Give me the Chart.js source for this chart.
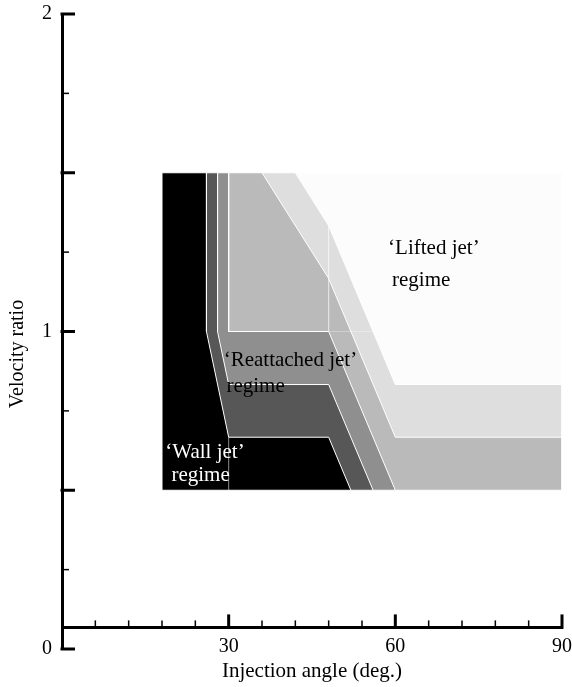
<!DOCTYPE html>
<html>
<head>
<meta charset="utf-8">
<script src="https://cdn.jsdelivr.net/npm/chart.js@4.4.1/dist/chart.umd.min.js"></script>
<style>
  html, body { margin: 0; padding: 0; background: #fff; }
  canvas { display: block; }
</style>
</head>
<body>
<canvas id="regimeChart" width="572" height="687"></canvas>
<script>
// regime boundaries, [injection angle, velocity ratio]
const liftedJet    = [[18, 0.5], [18, 1.5], [90, 1.5], [90, 0.5]];
const band1        = [[18, 0.5], [18, 1.5], [42, 1.5], [48, 1.333], [60, 0.833], [90, 0.833], [90, 0.5]];
const band2        = [[18, 0.5], [18, 1.5], [36, 1.5], [48, 1.167], [60, 0.667], [90, 0.667], [90, 0.5]];
const reattached1  = [[18, 0.5], [18, 1.5], [30, 1.5], [30, 1.0], [48, 1.0], [60, 0.5]];
const reattached2  = [[18, 0.5], [18, 1.5], [28, 1.5], [28, 1.0], [30, 0.833], [48, 0.833], [56, 0.5]];
const wallJet      = [[18, 0.5], [18, 1.5], [26, 1.5], [26, 1.0], [30, 0.667], [48, 0.667], [52, 0.5]];

// faint mesh lines seen inside the bands
const meshLine1 = [[48, 1.333], [48, 1.0], [56, 1.0]];
const meshLine2 = [[30, 0.667], [30, 0.5]];

const xTickLabels = [30, 60, 90];
const yTickLabels = [0, 1, 2];
const xMajorTicks = [30, 60, 90];
const xMinorTicks = [6, 12, 18, 24, 36, 42, 48, 54, 66, 72, 78, 84];
const yMajorTicks = [0, 0.5, 1, 1.5, 2];
const yMinorTicks = [0.25, 0.75, 1.25, 1.75];

const regionLabels = [
  { text: '\u2018Lifted jet\u2019', x: 58.7, y: 1.263, color: '#000' },
  { text: 'regime', x: 59.4, y: 1.162, color: '#000' },
  { text: '\u2018Reattached jet\u2019', x: 29.1, y: 0.910, color: '#000' },
  { text: 'regime', x: 29.6, y: 0.828, color: '#000' },
  { text: '\u2018Wall jet\u2019', x: 18.6, y: 0.620, color: '#fff' },
  { text: 'regime', x: 19.7, y: 0.548, color: '#fff' }
];

const serif = "'Liberation Serif', 'Times New Roman', serif";
Chart.defaults.font.family = serif;
Chart.defaults.font.size = 20;
Chart.defaults.color = '#000';

function pts(arr, close) {
  const p = arr.map(a => ({ x: a[0], y: a[1] }));
  if (close) p.push({ x: arr[0][0], y: arr[0][1] });
  return p;
}

function region(data, color, order) {
  return {
    data: pts(data, true),
    showLine: true,
    fill: 'shape',
    backgroundColor: color,
    borderColor: '#ffffff',
    borderWidth: 1,
    pointRadius: 0,
    tension: 0,
    order: order
  };
}

function mesh(data, color) {
  return {
    data: pts(data, false),
    showLine: true,
    fill: false,
    borderColor: color,
    borderWidth: 1,
    pointRadius: 0,
    order: -1
  };
}

const extras = {
  id: 'extras',
  afterDraw(chart) {
    const ctx = chart.ctx;
    const xs = chart.scales.x, ys = chart.scales.y;
    const ax = ys.right;
    const ay = ys.getPixelForValue(0.068);
    ctx.save();
    ctx.strokeStyle = '#000';
    ctx.lineCap = 'butt';
    // y ticks point inward
    yMajorTicks.forEach(v => {
      const py = ys.getPixelForValue(v);
      ctx.lineWidth = 3;
      ctx.beginPath(); ctx.moveTo(ax - 1.5, py); ctx.lineTo(ax + 13, py); ctx.stroke();
    });
    yMinorTicks.forEach(v => {
      const py = ys.getPixelForValue(v);
      ctx.lineWidth = 1.5;
      ctx.beginPath(); ctx.moveTo(ax, py); ctx.lineTo(ax + 7, py); ctx.stroke();
    });
    // x ticks point up
    xMajorTicks.forEach(v => {
      const px = xs.getPixelForValue(v);
      ctx.lineWidth = 3;
      ctx.beginPath(); ctx.moveTo(px, ay + 1.5); ctx.lineTo(px, ay - 13); ctx.stroke();
    });
    xMinorTicks.forEach(v => {
      const px = xs.getPixelForValue(v);
      ctx.lineWidth = 1.5;
      ctx.beginPath(); ctx.moveTo(px, ay); ctx.lineTo(px, ay - 7); ctx.stroke();
    });

    // axis titles
    ctx.fillStyle = '#000';
    ctx.textAlign = 'center';
    ctx.textBaseline = 'middle';
    ctx.font = '21px ' + serif;
    ctx.fillText('Injection angle (deg.)', (xs.left + xs.right) / 2, 671);
    ctx.font = '20px ' + serif;
    ctx.save();
    ctx.translate(18, 354);
    ctx.rotate(-Math.PI / 2);
    ctx.fillText('Velocity ratio', 0, 0);
    ctx.restore();

    // regime labels
    ctx.textAlign = 'left';
    ctx.font = '21px ' + serif;
    regionLabels.forEach(l => {
      ctx.fillStyle = l.color;
      ctx.fillText(l.text, xs.getPixelForValue(l.x), ys.getPixelForValue(l.y));
    });
    ctx.restore();
  }
};

new Chart(document.getElementById('regimeChart'), {
  type: 'scatter',
  data: {
    datasets: [
      region(liftedJet, '#fcfcfc', 5),
      region(band1, '#dedede', 4),
      region(band2, '#bababa', 3),
      region(reattached1, '#8f8f8f', 2),
      region(reattached2, '#575757', 1),
      region(wallJet, '#000000', 0),
      mesh(meshLine1, 'rgba(255,255,255,0.3)'),
      mesh(meshLine2, 'rgba(255,255,255,0.22)')
    ]
  },
  options: {
    responsive: false,
    animation: false,
    layout: { padding: { top: 14, right: 10, bottom: 38, left: 0 } },
    plugins: {
      legend: { display: false },
      tooltip: { enabled: false }
    },
    scales: {
      x: {
        type: 'linear',
        min: 0,
        max: 90,
        position: { y: 0.068 },
        grid: { display: false, drawTicks: false },
        border: { display: true, color: '#000', width: 3 },
        ticks: { padding: 7, maxRotation: 0, color: '#000' },
        afterBuildTicks: s => { s.ticks = xTickLabels.map(v => ({ value: v })); },
        afterFit: s => { s.paddingLeft = 0; s.paddingRight = 0; }
      },
      y: {
        type: 'linear',
        min: 0,
        max: 2,
        grid: { display: false, drawTicks: false },
        border: { display: true, color: '#000', width: 3 },
        ticks: { padding: 10, color: '#000' },
        afterBuildTicks: s => { s.ticks = yTickLabels.map(v => ({ value: v })); },
        afterFit: s => { s.width = 62; s.paddingTop = 0; s.paddingBottom = 0; }
      }
    }
  },
  plugins: [extras]
});
</script>
</body>
</html>
